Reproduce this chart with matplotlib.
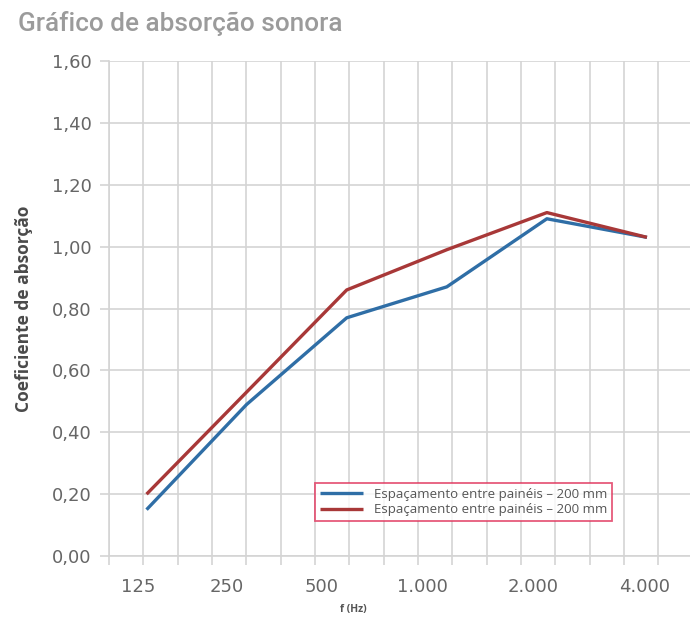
import numpy as np
import matplotlib.pyplot as plt
from matplotlib.ticker import FixedLocator

freq_labels = ['125', '250', '500', '1.000', '2.000', '4.000']
serie_azul = [0.15, 0.49, 0.77, 0.87, 1.09, 1.03]
serie_vermelha = [0.20, 0.53, 0.86, 0.99, 1.11, 1.03]
legenda = ['Espaçamento entre painéis – 200 mm', 'Espaçamento entre painéis – 200 mm']
y_ticks = [0.0, 0.2, 0.4, 0.6, 0.8, 1.0, 1.2, 1.4, 1.6]

plt.rcParams['font.family'] = ['Open Sans', 'DejaVu Sans']
tick_font = {'family': 'DejaVu Sans', 'size': 13}

fig = plt.figure(figsize=(6.9, 6.22), dpi=100)
ax = fig.add_axes([0.158, 0.106, 0.842, 0.796])

x = np.arange(len(freq_labels))
ax.plot(x, serie_azul, color='#2f6ea6', lw=2.4, label=legenda[0], solid_capstyle='butt')
ax.plot(x, serie_vermelha, color='#a83838', lw=2.4, label=legenda[1], solid_capstyle='butt')

xmin, xmax = -0.375, 5.43
ax.set_xlim(xmin, xmax)
ax.set_ylim(0, 1.6)

# grade vertical em terços de oitava
grid_x = np.arange(xmin, xmax, 0.343)
ax.xaxis.set_minor_locator(FixedLocator(grid_x))
ax.set_xticks([-0.087, 0.80, 1.75, 2.76, 3.86, 4.98])
ax.set_xticklabels(freq_labels, fontdict=tick_font)
ax.tick_params(axis='x', which='major', length=0, pad=16, labelcolor='#666666')
ax.tick_params(axis='x', which='minor', length=6.5, width=1.2, color='#d4d4d4', direction='out')
ax.grid(True, axis='x', which='minor', color='#d4d4d4', lw=1.2)

ax.set_yticks(y_ticks)
ax.set_yticklabels([f'{v:.2f}'.replace('.', ',') for v in y_ticks], fontdict=tick_font)
ax.tick_params(axis='y', length=6.5, width=1.2, color='#d4d4d4', pad=6, labelcolor='#666666')
ax.grid(True, axis='y', color='#d4d4d4', lw=1.2)
ax.set_axisbelow(True)

for s in ['top', 'right']:
    ax.spines[s].set_visible(False)
for s in ['left', 'bottom']:
    ax.spines[s].set_color('#d4d4d4')
    ax.spines[s].set_linewidth(1.2)

ax.set_ylabel('Coeficiente de absorção', fontsize=12.5, fontweight='bold', color='#4a4a4a')
ax.yaxis.set_label_coords(-0.13, 0.5)
fig.text(0.512, 0.012, 'f (Hz)', fontsize=7.5, fontweight='bold', color='#555555', ha='center', va='bottom')

fig.text(0.026, 0.962, 'Gráfico de absorção sonora', fontsize=18.8, fontweight='medium',
         family='Roboto', color='#9b9b9b', ha='left', va='center')

leg = ax.legend(loc='upper left', bbox_to_anchor=(0.355, 0.1475), fontsize=9.5, frameon=True,
                fancybox=False, handlelength=3.3, handletextpad=0.8, borderpad=0.35,
                labelspacing=0.2, borderaxespad=0)
leg.get_frame().set_edgecolor('#e0325a')
leg.get_frame().set_linewidth(1.3)
for t in leg.get_texts():
    t.set_color('#555555')

fig.savefig('out.png', dpi=100)
